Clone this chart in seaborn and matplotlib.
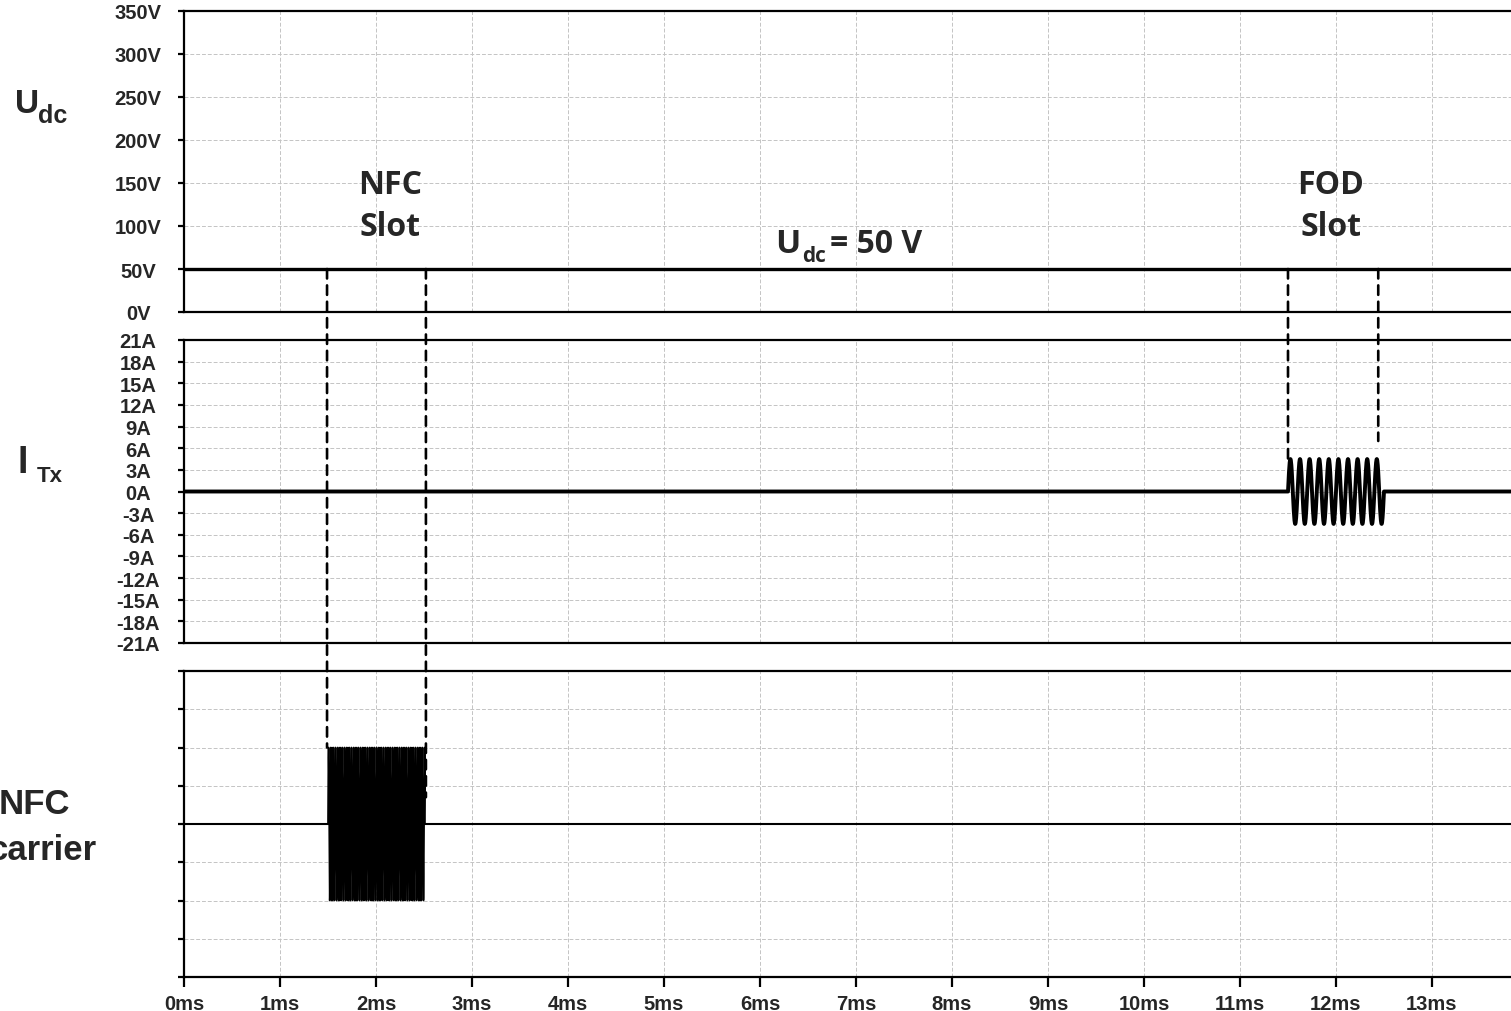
import numpy as np
import pandas as pd
import matplotlib
matplotlib.use("Agg")
import matplotlib.pyplot as plt
from matplotlib.patches import ConnectionPatch
import seaborn as sns

# ---- signal description (time in ms) ----
t_end = 14.0
udc_time = [0.0, t_end]
udc_volt = [50.0, 50.0]

# FOD current burst in the transmitter coil
fod_start, fod_stop = 11.5, 12.5
fod_freq_khz = 10.0
fod_amp_a = 4.5

# NFC carrier burst
nfc_start, nfc_stop = 1.5, 2.51
nfc_cycles_per_ms = 42.0
nfc_amp = 2.0

# slot marker lines: (time, panel where the line stops, value where it stops)
nfc_markers = [(1.49, "nfc", 2.0), (2.52, "nfc", 0.7)]
fod_markers = [(11.50, "itx", 4.5), (12.44, "itx", 7.0)]

volt_ticks = [0, 50, 100, 150, 200, 250, 300, 350]
amp_ticks = [21, 18, 15, 12, 9, 6, 3, 0, -3, -6, -9, -12, -15, -18, -21]
ms_ticks = list(range(0, 14))
nfc_ticks = [-4, -3, -2, -1, 0, 1, 2, 3, 4]


def burst(t0, t1, cycles_per_ms, amp, pts_per_cycle):
    n = int((t1 - t0) * cycles_per_ms * pts_per_cycle) + 1
    tb = np.linspace(t0, t1, n)
    yb = amp * np.sin(2 * np.pi * cycles_per_ms * (tb - t0))
    t = np.concatenate([[0.0, t0], tb, [t1, t_end]])
    y = np.concatenate([[0.0, 0.0], yb, [0.0, 0.0]])
    return pd.DataFrame({"t": t, "y": y})


itx_df = burst(fod_start, fod_stop, fod_freq_khz, fod_amp_a, 40)
nfc_df = burst(nfc_start, nfc_stop, nfc_cycles_per_ms, nfc_amp, 24)
udc_df = pd.DataFrame({"t": udc_time, "y": udc_volt})
baseline_df = pd.DataFrame({"t": [0.0, t_end], "y": [0.0, 0.0]})

sns.set_theme(style="whitegrid")
plt.rcParams["font.family"] = ["Liberation Sans", "DejaVu Sans"]
plt.rcParams["font.weight"] = "bold"

W, H = 1511, 1012
fig = plt.figure(figsize=(W / 100, H / 100), dpi=100)
fig.patch.set_facecolor("white")

px_per_ms = 96.0
x0 = 184.0


def rect(top, bottom):
    return [x0 / W, 1 - bottom / H, t_end * px_per_ms / W, (bottom - top) / H]


ax_u = fig.add_axes(rect(12, 313))
ax_i = fig.add_axes(rect(341, 644))
ax_n = fig.add_axes(rect(672, 978))

for ax in (ax_u, ax_i, ax_n):
    ax.set_facecolor("white")
    ax.set_xlim(0, t_end)
    ax.set_xticks(ms_ticks)
    ax.grid(True, color="#c4c4c4", linestyle=(0, (4, 2)), linewidth=0.7)
    for sp in ax.spines.values():
        sp.set_visible(True)
        sp.set_color("black")
        sp.set_linewidth(1.6)
    ax.tick_params(axis="y", which="major", left=True, length=4, width=1.6,
                   color="black", direction="out", pad=29, labelsize=14.5)

sns.lineplot(data=udc_df, x="t", y="y", ax=ax_u, color="black", linewidth=2.4,
             estimator=None, sort=False)
sns.lineplot(data=itx_df, x="t", y="y", ax=ax_i, color="black", linewidth=2.8,
             estimator=None, sort=False)
sns.lineplot(data=baseline_df, x="t", y="y", ax=ax_n, color="black",
             linewidth=1.5, estimator=None, sort=False)
sns.lineplot(data=nfc_df, x="t", y="y", ax=ax_n, color="black", linewidth=1.25,
             estimator=None, sort=False)

ax_u.set_ylim(0, 350)
ax_u.set_yticks(volt_ticks)
ax_u.set_yticklabels([f"{v}V" for v in volt_ticks])
ax_i.set_ylim(-21, 21)
ax_i.set_yticks(amp_ticks)
ax_i.set_yticklabels([f"{v}A" for v in amp_ticks])
ax_n.set_ylim(-4, 4)
ax_n.set_yticks(nfc_ticks)
ax_n.set_yticklabels([])

for ax in (ax_u, ax_i, ax_n):
    ax.set_xlabel("")
    ax.set_ylabel("")
    for lab in ax.get_yticklabels():
        lab.set_horizontalalignment("center")
        lab.set_fontweight("bold")

for ax in (ax_u, ax_i):
    ax.tick_params(axis="x", bottom=False, labelbottom=False)
ax_n.tick_params(axis="x", bottom=True, length=7, width=1.6, color="black",
                 direction="out", pad=5, labelsize=14.5)
ax_n.set_xticklabels([f"{m}ms" for m in ms_ticks], fontweight="bold")

# dashed slot markers spanning the panels
panels = {"nfc": ax_n, "itx": ax_i}
for t, name, y_low in nfc_markers + fod_markers:
    con = ConnectionPatch(xyA=(t, 50), coordsA=ax_u.transData,
                          xyB=(t, y_low), coordsB=panels[name].transData,
                          color="black", linewidth=1.9, linestyle=(0, (3.6, 2.6)),
                          zorder=5)
    fig.add_artist(con)


def ftext(x, y, s, **kw):
    fig.text(x / W, 1 - y / H, s, va="baseline", **kw)


# panel names on the left
ftext(15, 113, "U", fontsize=24, fontweight="bold")
ftext(38, 123, "dc", fontsize=18, fontweight="bold")
ftext(17, 473, "I", fontsize=27, fontweight="bold")
ftext(37, 482, "Tx", fontsize=16, fontweight="bold")
ftext(70, 814, "NFC", fontsize=25, fontweight="bold", ha="right")
ftext(97, 860, "carrier", fontsize=25, fontweight="bold", ha="right")

# slot annotations
ann = dict(family=["Open Sans", "DejaVu Sans"], fontweight="bold", ha="center")
ftext(390, 194, "NFC", fontsize=23, **ann)
ftext(390, 236, "Slot", fontsize=23, **ann)
ftext(1331, 194, "FOD", fontsize=23, **ann)
ftext(1331, 236, "Slot", fontsize=23, **ann)

ann2 = dict(family=["Open Sans", "DejaVu Sans"], fontweight="bold")
ftext(775, 253, "U", fontsize=24, **ann2)
ftext(802, 262, "dc", fontsize=15, **ann2)
ftext(830, 253, "= 50 V", fontsize=23, **ann2)

fig.savefig("out.png", dpi=100, facecolor="white")
